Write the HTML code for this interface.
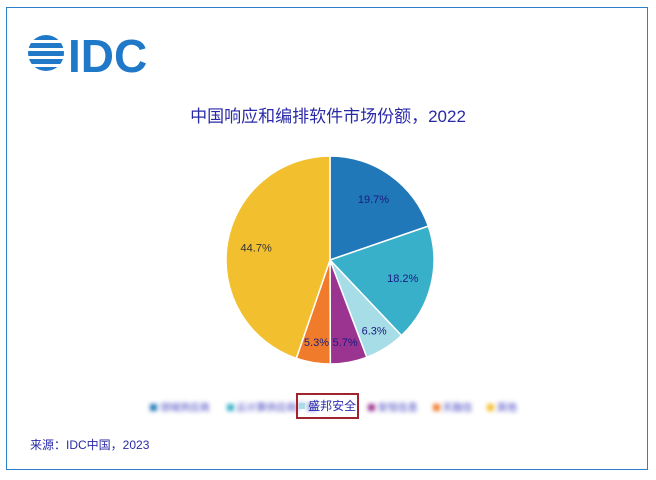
<!DOCTYPE html>
<html><head><meta charset="utf-8"><style>
body{margin:0;width:656px;height:480px;background:#fff;font-family:"Liberation Sans","Noto Sans CJK SC",sans-serif;position:relative;overflow:hidden}
.frame{position:absolute;left:6px;top:7px;width:642px;height:463px;border:1px solid #2f7fc8;box-sizing:border-box}
.title{position:absolute;left:0;width:656px;top:102px;text-align:center;color:#2a2aa8;font-size:17px}
.src{position:absolute;left:30px;top:436px;color:#2a2aa8;font-size:12px}
.blur{filter:blur(2px)}
</style></head><body>
<div class="frame"></div>
<svg style="position:absolute;left:24px;top:30px" width="140" height="48">
<defs><clipPath id="c"><circle cx="22" cy="23" r="18"/></clipPath></defs>
<g clip-path="url(#c)" fill="#1f78c8">
<rect x="0" y="5" width="44" height="5"/><rect x="0" y="13" width="44" height="5"/><rect x="0" y="21" width="44" height="5"/><rect x="0" y="29" width="44" height="5"/><rect x="0" y="37" width="44" height="5"/></g>
<text x="44" y="42" font-family="Liberation Sans" font-weight="bold" font-size="46" fill="#1f78c8">IDC</text>
</svg>
<div class="title">中国响应和编排软件市场份额，2022</div>
<svg id="pie" style="position:absolute;left:0;top:0" width="656" height="480"></svg>
<div style="position:absolute;left:150px;top:399px;font-size:10px;color:#4040c0;white-space:nowrap">
<span class="blur"><span style="display:inline-block;width:7px;height:7px;background:#1f78b8"></span> 领域供应商</span>
<span class="blur" style="margin-left:14px"><span style="display:inline-block;width:7px;height:7px;background:#38b0c9"></span> 云计算供应商厂商</span>
</div>
<div style="position:absolute;left:296px;top:393px;width:63px;height:26px;border:2px solid #a0232d;box-sizing:border-box;font-size:12px;color:#3030b0;line-height:22px;text-align:center"><span style="display:inline-block;width:6px;height:6px;background:#a6dde6;vertical-align:1px"></span> 盛邦安全</div>
<div style="position:absolute;left:368px;top:399px;font-size:10px;color:#4040c0;white-space:nowrap">
<span class="blur"><span style="display:inline-block;width:7px;height:7px;background:#9b3390"></span> 安恒信息</span>
<span class="blur" style="margin-left:12px"><span style="display:inline-block;width:7px;height:7px;background:#f07c2b"></span> 天融信</span>
<span class="blur" style="margin-left:12px"><span style="display:inline-block;width:7px;height:7px;background:#f2bf2e"></span> 其他</span>
</div>
<div class="src">来源：IDC中国，2023</div>
<script>
const categories=["厂商A","厂商B","盛邦安全","厂商D","厂商E","其他"];
const values=[19.7,18.2,6.3,5.7,5.3,44.7];
const colors=["#2078b8","#38b0c9","#a6dde6","#9b3390","#f07c2b","#f2bf2e"];
const svg=document.getElementById('pie');const NS="http://www.w3.org/2000/svg";
const cx=330,cy=260,r=104;const total=values.reduce((a,b)=>a+b,0);
let a=0;
values.forEach((v,i)=>{
 const a0=a,a1=a+v/total*2*Math.PI;a=a1;
 const p=t=>[cx+r*Math.sin(t),cy-r*Math.cos(t)];
 const [x0,y0]=p(a0),[x1,y1]=p(a1);
 const path=document.createElementNS(NS,'path');
 path.setAttribute('d',`M${cx},${cy}L${x0},${y0}A${r},${r} 0 ${a1-a0>Math.PI?1:0} 1 ${x1},${y1}Z`);
 path.setAttribute('fill',colors[i]);path.setAttribute('stroke','#fff');path.setAttribute('stroke-width','1.5');
 
 
 svg.appendChild(path);
 const m=(a0+a1)/2,lr=v<10?r*0.8:r*0.72;
 const t=document.createElementNS(NS,'text');
 t.setAttribute('x',cx+lr*Math.sin(m));t.setAttribute('y',cy-lr*Math.cos(m)+4);
 t.setAttribute('text-anchor','middle');t.setAttribute('font-size','11');
 t.setAttribute('fill',i==5?'#333':'#1a1a80');t.setAttribute('font-family','Liberation Sans');
 t.textContent=v.toFixed(1)+'%';
 
 
 svg.appendChild(t);
});
</script>
</body></html>
